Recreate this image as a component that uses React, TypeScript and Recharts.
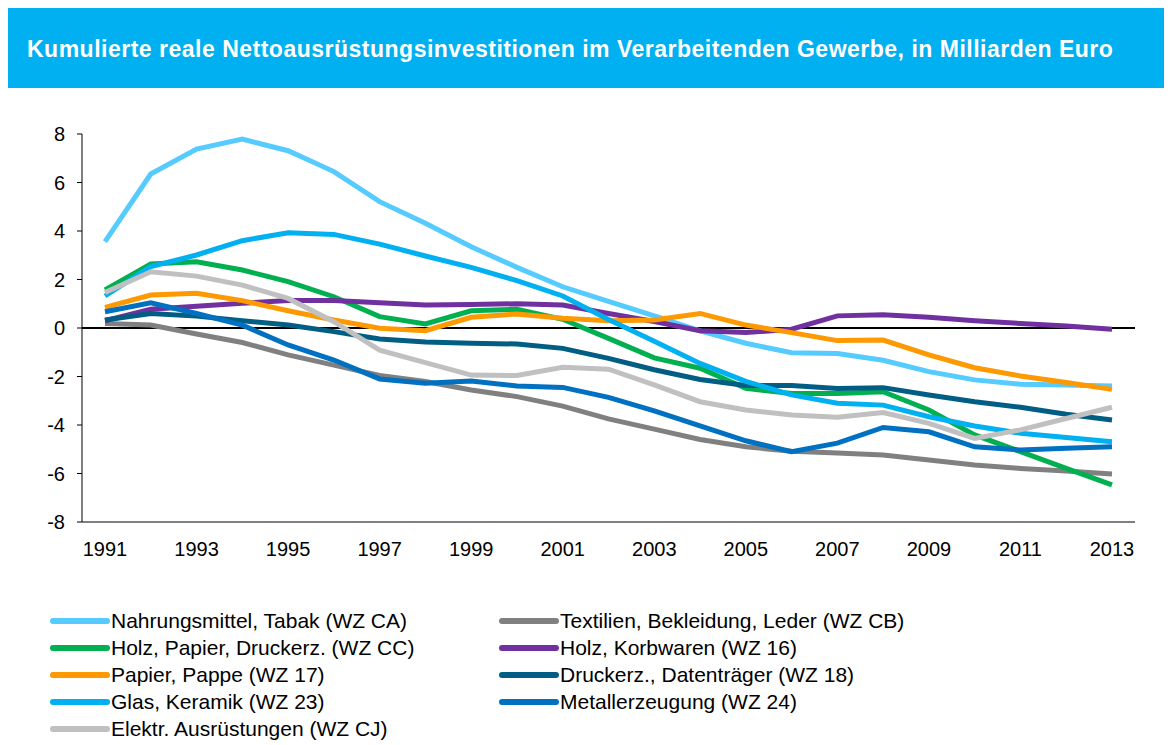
import { LineChart, Line, XAxis, YAxis, ReferenceLine, Legend } from 'recharts'

const years = ['1991', '1992', '1993', '1994', '1995', '1996', '1997', '1998', '1999', '2000', '2001', '2002', '2003', '2004', '2005', '2006', '2007', '2008', '2009', '2010', '2011', '2012', '2013']

const nahrung = [3.56, 6.35, 7.38, 7.79, 7.31, 6.45, 5.21, 4.32, 3.35, 2.5, 1.7, 1.1, 0.5, -0.12, -0.63, -1.02, -1.05, -1.33, -1.8, -2.14, -2.32, -2.35, -2.39]
const textil = [0.19, 0.12, -0.25, -0.6, -1.11, -1.53, -1.96, -2.21, -2.56, -2.83, -3.22, -3.75, -4.17, -4.6, -4.9, -5.08, -5.15, -5.24, -5.44, -5.65, -5.79, -5.9, -6.02]
const holzPapier = [1.57, 2.64, 2.73, 2.39, 1.91, 1.29, 0.47, 0.17, 0.71, 0.77, 0.36, -0.43, -1.23, -1.66, -2.49, -2.7, -2.7, -2.63, -3.38, -4.41, -5.1, -5.79, -6.47]
const holz = [0.3, 0.77, 0.9, 1.02, 1.13, 1.13, 1.04, 0.95, 0.97, 1.0, 0.95, 0.6, 0.27, -0.11, -0.19, -0.05, 0.5, 0.55, 0.44, 0.3, 0.19, 0.08, -0.05]
const papier = [0.85, 1.36, 1.43, 1.13, 0.71, 0.33, -0.01, -0.11, 0.44, 0.58, 0.4, 0.3, 0.33, 0.6, 0.12, -0.19, -0.52, -0.5, -1.11, -1.64, -1.98, -2.25, -2.53]
const druck = [0.33, 0.6, 0.49, 0.3, 0.12, -0.15, -0.45, -0.58, -0.63, -0.66, -0.84, -1.25, -1.72, -2.12, -2.37, -2.37, -2.49, -2.46, -2.76, -3.04, -3.27, -3.56, -3.79]
const glas = [1.32, 2.53, 3.01, 3.6, 3.93, 3.86, 3.46, 2.97, 2.5, 1.95, 1.32, 0.35, -0.55, -1.46, -2.2, -2.76, -3.1, -3.18, -3.66, -4.04, -4.34, -4.52, -4.69]
const metall = [0.67, 1.04, 0.6, 0.12, -0.7, -1.32, -2.1, -2.28, -2.19, -2.39, -2.45, -2.86, -3.42, -4.04, -4.65, -5.1, -4.75, -4.1, -4.28, -4.9, -5.03, -4.96, -4.9]
const elektr = [1.46, 2.32, 2.14, 1.77, 1.22, 0.26, -0.91, -1.43, -1.94, -1.96, -1.62, -1.7, -2.35, -3.04, -3.38, -3.59, -3.68, -3.49, -3.93, -4.55, -4.2, -3.73, -3.27]

const yTicks = [-8, -6, -4, -2, 0, 2, 4, 6, 8]

// legend order is row by row (two columns)
const series = [
  { key: 'ca', name: 'Nahrungsmittel, Tabak (WZ CA)', values: nahrung, color: '#55CBFF' },
  { key: 'cb', name: 'Textilien, Bekleidung, Leder (WZ CB)', values: textil, color: '#808080' },
  { key: 'cc', name: 'Holz, Papier, Druckerz. (WZ CC)', values: holzPapier, color: '#00B050' },
  { key: 'w16', name: 'Holz, Korbwaren (WZ 16)', values: holz, color: '#7030A0' },
  { key: 'w17', name: 'Papier, Pappe (WZ 17)', values: papier, color: '#FF9900' },
  { key: 'w18', name: 'Druckerz., Datenträger (WZ 18)', values: druck, color: '#005E84' },
  { key: 'w23', name: 'Glas, Keramik (WZ 23)', values: glas, color: '#00B0F0' },
  { key: 'w24', name: 'Metallerzeugung (WZ 24)', values: metall, color: '#0070C0' },
  { key: 'cj', name: 'Elektr. Ausrüstungen (WZ CJ)', values: elektr, color: '#C0C0C0' },
]

const data = years.map((year, i) => {
  const row: Record<string, string | number> = { year }
  series.forEach(s => { row[s.key] = s.values[i] })
  return row
})

const FONT = '"Liberation Sans", Arial, sans-serif'

function LegendGrid() {
  return (
    <div style={{ display: 'grid', gridTemplateColumns: '449px 420px', fontFamily: FONT }}>
      {series.map(s => (
        <div key={s.key} style={{ display: 'flex', alignItems: 'center', height: 27 }}>
          <span style={{ display: 'inline-block', marginLeft: 2, width: 60, height: 6, borderRadius: 3, background: s.color }} />
          <span style={{ fontSize: 21, color: '#000', marginLeft: 1, whiteSpace: 'nowrap' }}>{s.name}</span>
        </div>
      ))}
    </div>
  )
}

export default function App() {
  return (
    <div style={{ position: 'relative', width: 1164, height: 737, fontFamily: FONT }}>
      <div
        style={{
          position: 'absolute', left: 0, top: 0, width: 1157, height: 80, background: '#00B0F0',
          display: 'flex', alignItems: 'center', paddingLeft: 19, paddingTop: 2, boxSizing: 'border-box', zIndex: 2,
        }}
      >
        <span style={{ color: '#fff', fontWeight: 'bold', fontSize: 23, letterSpacing: 0.5, whiteSpace: 'nowrap' }}>
          Kumulierte reale Nettoausrüstungsinvestitionen im Verarbeitenden Gewerbe, in Milliarden Euro
        </span>
      </div>
      <LineChart width={1164} height={737} data={data} margin={{ top: 126, right: 37, left: 0, bottom: 183 }}>
        <XAxis
          dataKey="year"
          interval={1}
          padding={{ left: 23, right: 23 }}
          tickLine={false}
          tickSize={0}
          tickMargin={20}
          height={40}
          stroke="#000"
          tick={{ fill: '#000', fontSize: 20, fontFamily: FONT }}
        />
        <YAxis
          domain={[-8, 8]}
          ticks={yTicks}
          width={74}
          tickSize={5}
          tickMargin={12}
          stroke="#000"
          tick={{ fill: '#000', fontSize: 20, fontFamily: FONT }}
        />
        <ReferenceLine y={0} stroke="#000" strokeWidth={2} />
        {series.map(s => (
          <Line
            key={s.key}
            dataKey={s.key}
            name={s.name}
            stroke={s.color}
            strokeWidth={5}
            dot={false}
            type="linear"
            isAnimationActive={false}
          />
        ))}
        <Legend
          layout="horizontal"
          verticalAlign="middle"
          align="center"
          wrapperStyle={{ top: 599, left: 40, width: 900 }}
          content={<LegendGrid />}
        />
      </LineChart>
    </div>
  )
}
